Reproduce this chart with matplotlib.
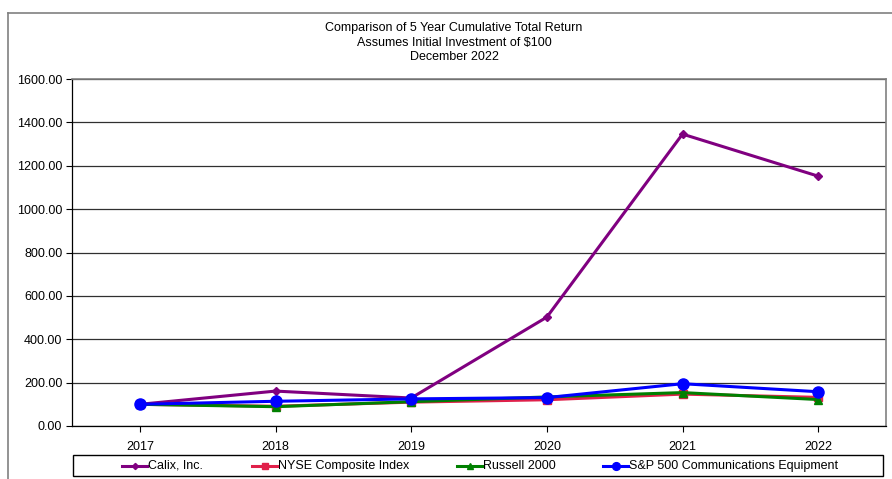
import matplotlib
matplotlib.use("Agg")
import matplotlib.pyplot as plt
from matplotlib.lines import Line2D
from matplotlib.patches import Rectangle

years = ["2017", "2018", "2019", "2020", "2021", "2022"]
calix = [100.0, 161.0, 129.0, 502.0, 1346.0, 1152.0]
nyse = [100.0, 91.0, 110.0, 121.0, 147.0, 132.0]
russell = [100.0, 89.0, 112.0, 134.0, 154.0, 122.0]
sp_comm = [100.0, 114.0, 125.0, 131.0, 195.0, 158.0]
series_names = ["Calix, Inc.", "NYSE Composite Index", "Russell 2000", "S&P 500 Communications Equipment"]
yticks = [0, 200, 400, 600, 800, 1000, 1200, 1400, 1600]
title = "Comparison of 5 Year Cumulative Total Return\nAssumes Initial Investment of $100\nDecember 2022"

plt.rcParams['font.family'] = ['Liberation Sans', 'DejaVu Sans']

W, H = 892, 479
fig = plt.figure(figsize=(W/100, H/100), dpi=100)
ax = fig.add_axes([72/W, 1-426/H, (886-72)/W, (426-79)/H])

styles = [
    dict(color='#800080', marker='D', ms=4.5, zorder=3),
    dict(color='#E0204A', marker='s', ms=6, zorder=3),
    dict(color='#008000', marker='^', ms=6, zorder=4),
    dict(color='#0000FF', marker='o', ms=8, zorder=5),
]
data = [calix, nyse, russell, sp_comm]
x = list(range(len(years)))
for vals, name, st in zip(data, series_names, styles):
    ax.plot(x, vals, lw=2.2, label=name, **st)

ax.set_xlim(-0.5, len(years)-0.5)
ax.set_ylim(0, 1600)
ax.set_xticks(x)
ax.set_xticklabels(years)
ax.set_yticks(yticks)
ax.set_yticklabels([f"{v:.2f}" for v in yticks])
ax.tick_params(axis='both', labelsize=9, direction='out', length=4, width=0.8, colors='black')
ax.tick_params(axis='x', pad=7)
ax.tick_params(axis='y', pad=3)
ax.grid(axis='y', color='#303030', lw=0.9)
ax.set_axisbelow(True)
for s in ['top', 'right']:
    ax.spines[s].set_color('#808080')
    ax.spines[s].set_linewidth(1.2)
for s in ['left', 'bottom']:
    ax.spines[s].set_color('black')
    ax.spines[s].set_linewidth(0.9)

fig.text(454/W, 1-22/H, title, ha='center', va='top', fontsize=9, linespacing=1.28)

# outer frame
fig.add_artist(Line2D([8/W, 8/W], [0, 1-13/H], color='#808080', lw=1.2, transform=fig.transFigure))
fig.add_artist(Line2D([8/W, 1], [1-13/H, 1-13/H], color='#808080', lw=1.2, transform=fig.transFigure))

# legend box
fig.add_artist(Rectangle((73/W, 1-476/H), (883-73)/W, (476-455)/H, transform=fig.transFigure,
                         fill=False, edgecolor='black', lw=1.0))
leg_x = [122, 252, 457, 603]
leg_y = 1-465.5/H
hl = 25
for px, name, st in zip(leg_x, series_names, styles):
    fig.add_artist(Line2D([px/W, (px+hl)/W], [leg_y, leg_y], color=st['color'], lw=2.2,
                          transform=fig.transFigure))
    fig.add_artist(Line2D([(px+hl/2)/W], [leg_y], color=st['color'], marker=st['marker'],
                          ms=st['ms']*0.7, lw=0, transform=fig.transFigure))
    fig.text((px+hl+1)/W, 1-469/H, name, ha='left', va='baseline', fontsize=9)

fig.savefig("out.png", dpi=100)
